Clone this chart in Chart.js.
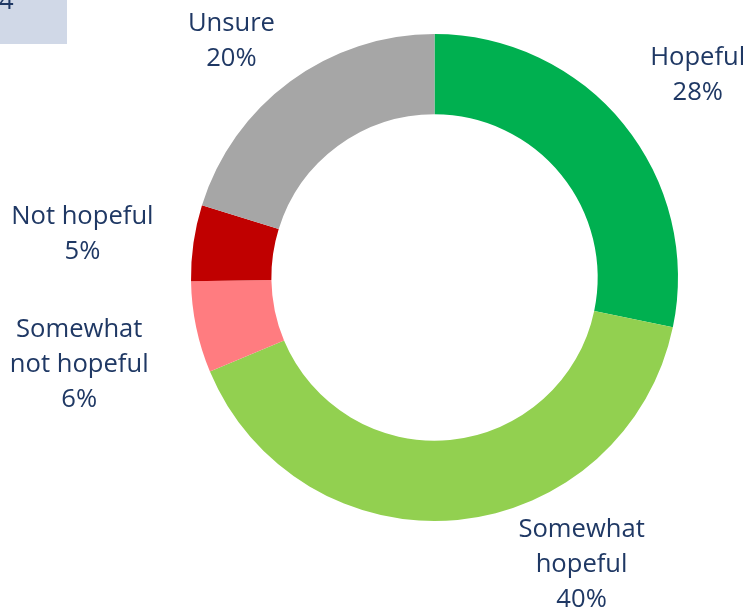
<!DOCTYPE html>
<html>
<head>
<meta charset="utf-8">
<script src="https://cdn.jsdelivr.net/npm/chart.js@4/dist/chart.umd.min.js"></script>
<style>
  html, body { margin: 0; padding: 0; background: #fff; }
  #wrap { width: 746px; height: 609px; position: relative; }
</style>
</head>
<body>
<div id="wrap"><canvas id="donut"></canvas></div>
<script>
const categories = ['Hopeful', 'Somewhat hopeful', 'Somewhat not hopeful', 'Not hopeful', 'Unsure'];
const shares = [28, 40, 6, 5, 20];
const sliceColors = ['#00B050', '#92D050', '#FF7C80', '#C00000', '#A6A6A6'];

// label text lines per slice (Excel wraps them like this)
const labelLines = [
  ['Hopeful'],
  ['Somewhat', 'hopeful'],
  ['Somewhat', 'not hopeful'],
  ['Not hopeful'],
  ['Unsure'],
];

const textColor = '#1F3864';
const font = '25.6px "Open Sans"';
const lineGap = 35;

// where each label sits, relative to the ring centre, in units of the outer radius
// (x of text centre, y of first baseline)
const labelPlace = [
  [1.081, -0.873],
  [0.604, 1.066],
  [-1.459, 0.244],
  [-1.446, -0.219],
  [-0.834, -1.013],
];

const cornerBox = {
  id: 'cornerBox',
  beforeDraw(chart) {
    const ctx = chart.ctx;
    ctx.save();
    ctx.fillStyle = '#D0D8E7';
    ctx.fillRect(0, 0, 67, 44);
    ctx.fillStyle = textColor;
    ctx.font = font;
    ctx.textAlign = 'left';
    ctx.textBaseline = 'alphabetic';
    ctx.fillText('4', -1, 9);
    ctx.restore();
  },
};

const outsideLabels = {
  id: 'outsideLabels',
  afterDatasetsDraw(chart) {
    const ctx = chart.ctx;
    const arcs = chart.getDatasetMeta(0).data;
    ctx.save();
    ctx.fillStyle = textColor;
    ctx.font = font;
    ctx.textAlign = 'center';
    ctx.textBaseline = 'alphabetic';
    arcs.forEach((arc, i) => {
      const r = arc.outerRadius;
      const x = arc.x + labelPlace[i][0] * r;
      let y = arc.y + labelPlace[i][1] * r;
      const lines = labelLines[i].concat([shares[i] + '%']);
      lines.forEach((line) => {
        ctx.fillText(line, x, y);
        y += lineGap;
      });
    });
    ctx.restore();
  },
};

// eslint-disable-next-line no-undef,no-unused-vars
const chart = new Chart(document.getElementById('donut').getContext('2d'), {
  type: 'doughnut',
  data: {
    labels: categories,
    datasets: [{
      data: shares,
      backgroundColor: sliceColors,
      borderWidth: 0,
    }],
  },
  options: {
    responsive: true,
    maintainAspectRatio: false,
    animation: false,
    cutout: '67%',
    layout: { padding: { left: 191, right: 68, top: 34, bottom: 88 } },
    plugins: {
      legend: { display: false },
      tooltip: { enabled: false },
    },
  },
  plugins: [cornerBox, outsideLabels],
});
</script>
</body>
</html>
